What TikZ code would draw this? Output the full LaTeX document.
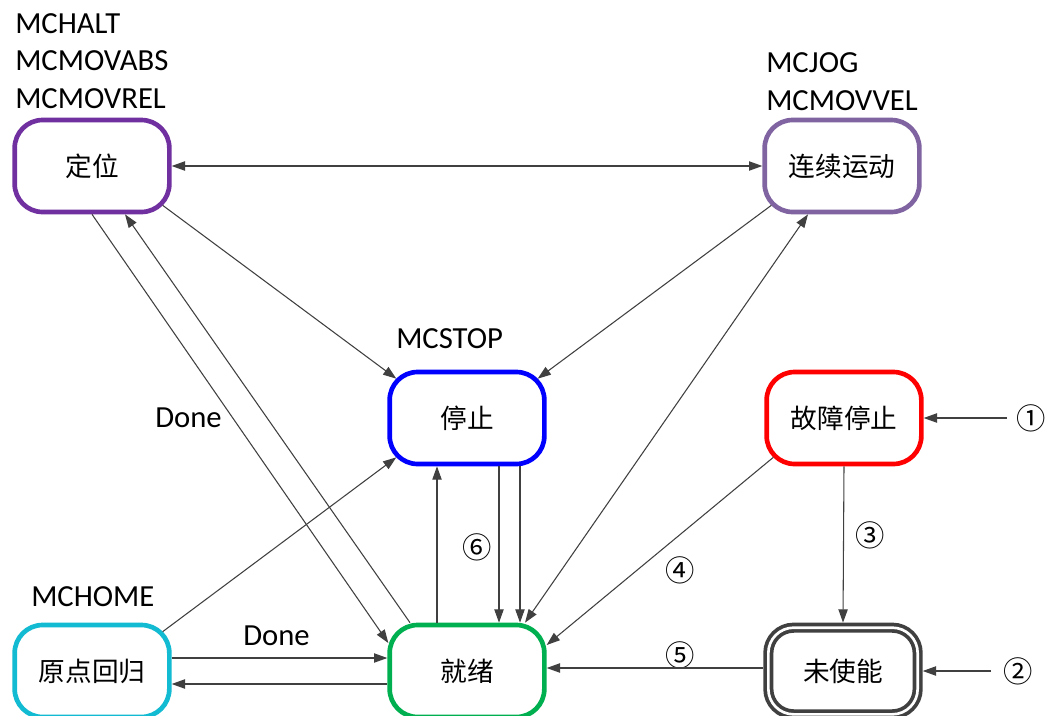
\documentclass[tikz,border=0pt]{standalone}
\usepackage{fontspec}
\setmainfont{Carlito}
\newfontfamily\cjk{Noto Sans CJK SC}
\usetikzlibrary{arrows.meta,positioning,calc}
\definecolor{posviolet}{RGB}{112,48,160}
\definecolor{jogviolet}{RGB}{128,100,162}
\definecolor{homecyan}{RGB}{18,186,210}
\definecolor{readygreen}{RGB}{0,176,80}
\definecolor{disgray}{RGB}{64,64,64}
\definecolor{edgegray}{RGB}{64,64,64}

\begin{document}
\begin{tikzpicture}[x=0.75pt,y=-0.75pt,>={Triangle[length=10pt,width=7pt]},
  statebox/.style={draw,line width=3.5pt,rounded corners=21pt,minimum width=116pt,minimum height=69pt,fill=white,font=\cjk\fontsize{20}{24}\selectfont},
  trans/.style={draw=edgegray,line width=0.8pt},
  cmd/.style={anchor=base west,align=left,inner sep=0pt,font=\fontsize{23}{28}\selectfont},
  num/.style={font=\cjk\fontsize{22}{26}\selectfont,inner sep=1pt}]
\useasboundingbox (0,0) rectangle (1046,715);

% states
\node[statebox,draw=posviolet] (dingwei) at (92,166) {定位};
\node[statebox,draw=jogviolet] (lianxu) at (842,166) {连续运动};
\node[statebox,draw=blue] (tingzhi) at (467,418) {停止};
\node[statebox,draw=red] (guzhang) at (844,418) {故障停止};
\node[statebox,draw=homecyan] (yuandian) at (92,671) {原点回归};
\node[statebox,draw=readygreen] (jiuxu) at (467,671) {就绪};
\node[statebox,draw=disgray,double,line width=2.8pt,double distance=2pt,minimum width=112pt,minimum height=65pt,rounded corners=19pt,outer sep=3.8pt] (weishineng) at (843,671) {未使能};

% commands and labels (base = last line)
\node[cmd] (poscmd) at (15,108) {MCHALT\\MCMOVABS\\MCMOVREL};
\node[cmd] (jogcmd) at (766,110) {MCJOG\\MCMOVVEL};
\node[cmd] (stopcmd) at (396,348) {MCSTOP};
\node[cmd] (homecmd) at (31,606) {MCHOME};
\node[cmd] (donepos) at (155,427) {Done};
\node[cmd] (donehome) at (243,645) {Done};

\node[num] (n1) at (1031,418) {①};
\node[num] (n2) at (1018,671) {②};
\node[num] (n3) at (870,535) {③};
\node[num] (n4) at (680,570) {④};
\node[num] (n5) at (680,655) {⑤};
\node[num] (n6) at (477,547) {⑥};

% transitions
\draw[trans,<->] (dingwei.east) -- (lianxu.west);
\draw[trans,->] (dingwei.south) -- ($(jiuxu.west)+(1,-28)$);
\draw[trans,->] ($(jiuxu.north)+(-57,0)$) -- ($(dingwei.south)+(33,0)$);
\draw[trans,->] ($(dingwei.south east)+(-9,-9)$) -- ($(tingzhi.north west)+(9,9)$);
\draw[trans,->] ($(lianxu.south west)+(9,-9)$) -- ($(tingzhi.north east)+(-9,9)$);
\draw[trans,<->] ($(jiuxu.north)+(58,0)$) -- ($(lianxu.south)+(-34,0)$);
\draw[trans,->] ($(yuandian.north east)+(-9,9)$) -- ($(tingzhi.south west)+(9,-9)$);
\draw[trans,->] ($(jiuxu.north)+(-30,0)$) -- ($(tingzhi.south)+(-30,0)$);
\draw[trans,->] ($(tingzhi.south)+(32,0)$) -- ($(jiuxu.north)+(32,0)$);
\draw[trans,->] ($(tingzhi.south)+(53,0)$) -- ($(jiuxu.north)+(53,0)$);
\draw[trans,->] ($(guzhang.south west)+(9,-9)$) -- ($(jiuxu.east)+(0,-26)$);
\draw[trans,->] (guzhang.south) -- (weishineng.north);
\draw[trans,->] ($(weishineng.west)+(0,-3)$) -- ($(jiuxu.east)+(0,-3)$);
\draw[trans,->] ($(yuandian.east)+(0,-13)$) -- ($(jiuxu.west)+(0,-13)$);
\draw[trans,->] ($(jiuxu.west)+(0,13)$) -- ($(yuandian.east)+(0,13)$);
\draw[trans,->,shorten <=6pt] (n1.west) -- (guzhang.east);
\draw[trans,->,shorten <=8pt] (n2.west) -- (weishineng.east);
\end{tikzpicture}
\end{document}
